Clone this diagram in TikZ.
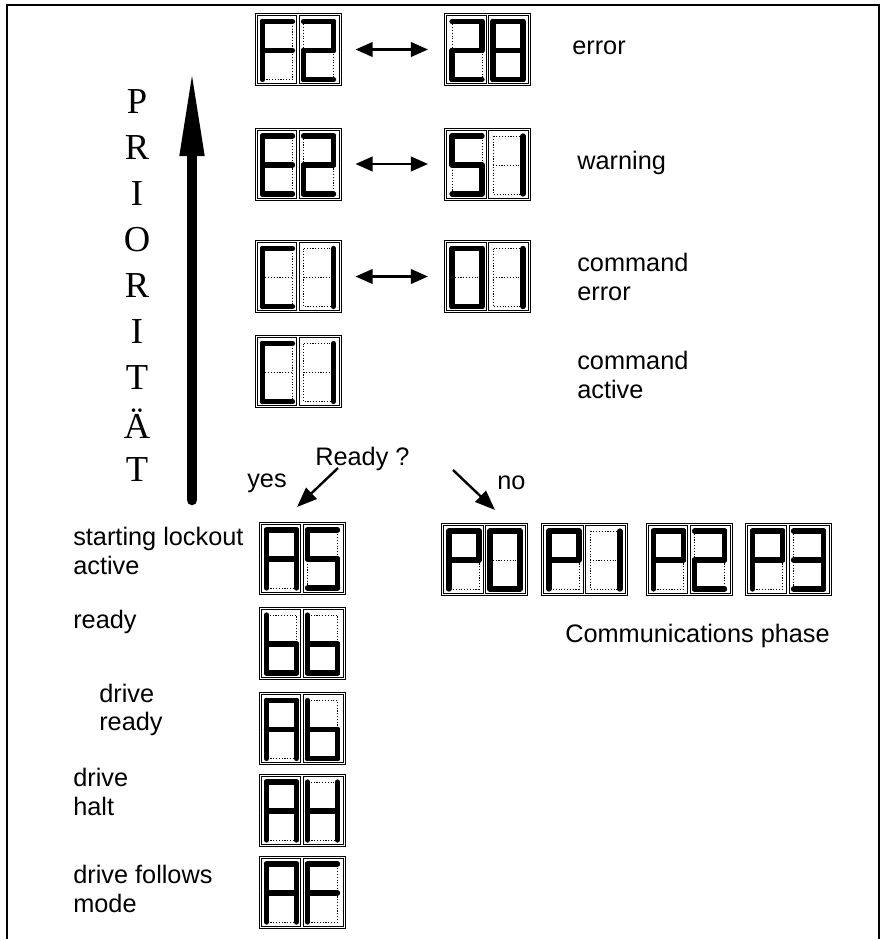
\documentclass[tikz,border=0pt]{standalone}
\usepackage{fontspec}
\setmainfont{Liberation Sans}
\newfontfamily\prioserif{Liberation Serif}
\usetikzlibrary{arrows.meta, calc}

\expandafter\def\csname sega\endcsname#1#2{(#1-15,#2-28) -- (#1+15,#2-28)}
\expandafter\def\csname segb\endcsname#1#2{(#1+15,#2-28) -- (#1+15,#2+1)}
\expandafter\def\csname segc\endcsname#1#2{(#1+15,#2+1) -- (#1+15,#2+30)}
\expandafter\def\csname segd\endcsname#1#2{(#1-15,#2+30) -- (#1+15,#2+30)}
\expandafter\def\csname sege\endcsname#1#2{(#1-15,#2+1) -- (#1-15,#2+30)}
\expandafter\def\csname segf\endcsname#1#2{(#1-15,#2-28) -- (#1-15,#2+1)}
\expandafter\def\csname segg\endcsname#1#2{(#1-15,#2+1) -- (#1+15,#2+1)}

\newcommand{\segdigit}[3]{%
  \draw[segoff] (#1-15,#2-28) rectangle (#1+15,#2+30) (#1-15,#2+1) -- (#1+15,#2+1);
  \foreach \sg in {#3} {\draw[segon] \csname seg\sg\endcsname{#1}{#2};}
}
\newcommand{\segdisplay}[5]{%
  \node[dispbox] (#1) at (#2,#3) {};
  \draw[cellbox] (#2-41,#3-34) rectangle (#2-1.2,#3+34);
  \draw[cellbox] (#2+1.2,#3-34) rectangle (#2+41,#3+34);
  \segdigit{#2-20.5}{#3}{#4}
  \segdigit{#2+20.5}{#3}{#5}
}

\tikzset{
  dispbox/.style={draw, line width=0.6pt, minimum width=2.15cm, minimum height=1.8cm, inner sep=0pt},
  cellbox/.style={line width=0.6pt},
  segoff/.style={line width=0.5pt, dash pattern=on 0.8pt off 1.2pt},
  segon/.style={line width=3.8pt, line cap=round},
  lbl/.style={anchor=west, align=left, inner sep=0pt, font=\fontsize{18}{20.5}\selectfont},
  prio/.style={inner sep=0pt, font=\prioserif\fontsize{26}{30}\selectfont},
  pairarrow/.style={line width=2pt, {Triangle[length=0.43cm, width=0.36cm]}-{Triangle[length=0.43cm, width=0.36cm]}, shorten <=0.35cm, shorten >=0.4cm},
  readyarrow/.style={line width=1.7pt, -{Triangle[length=0.5cm, width=0.38cm]}},
  prioarrow/.style={line width=7.5pt, line cap=round, -{Triangle[length=2.25cm, width=0.55cm]}}
}

\begin{document}
\begin{tikzpicture}[x=0.025cm, y=-0.025cm]
  \useasboundingbox (0,0) rectangle (882,939);
  \draw[line width=2pt] (7,939) -- (7,5) -- (879,5) -- (879,939);

  \segdisplay{f2}{298}{49.5}{a,e,f,g}{a,b,g,e,d}
  \segdisplay{n28}{487.5}{49.5}{a,b,g,e,d}{a,b,c,d,e,f,g}
  \segdisplay{e2}{298}{164}{a,d,e,f,g}{a,b,g,e,d}
  \segdisplay{s1}{487.5}{164}{a,f,g,c,d}{b,c}
  \segdisplay{cerr}{298}{276.5}{a,d,e,f}{b,c}
  \segdisplay{n01}{487.5}{276.5}{a,b,c,d,e,f}{b,c}
  \segdisplay{cact}{298}{371.5}{a,d,e,f}{b,c}

  \draw[pairarrow] (f2) -- (n28);
  \draw[pairarrow] (e2) -- (s1);
  \draw[pairarrow] (cerr) -- (n01);

  \node[lbl] (errtxt) at (572,48) {error};
  \node[lbl] (warntxt) at (577,163) {warning};
  \node[lbl] (cerrtxt) at (577,277) {command\\error};
  \node[lbl] (cacttxt) at (577,375) {command\\active};

  \foreach \ch [count=\i] in {P,R,I,O,R,I,T,Ä,T}
    \node[prio] (prio\i) at (137,{102+46*(\i-1)}) {\ch};
  \draw[prioarrow] (192,500) -- (192,66);

  \node[lbl] (ready) at (315,459) {Ready ?};
  \node[lbl] (yes) at (247,483) {yes};
  \node[lbl] (no) at (497,483) {no};
  \coordinate (yesfrom) at (338,468);
  \coordinate (yesto) at (297,507);
  \coordinate (nofrom) at (453,470);
  \coordinate (noto) at (495,510);
  \draw[readyarrow] (yesfrom) -- (yesto);
  \draw[readyarrow] (nofrom) -- (noto);

  \segdisplay{as}{302}{558}{a,b,c,e,f,g}{a,f,g,c,d}
  \segdisplay{bb}{302}{643}{c,d,e,f,g}{c,d,e,f,g}
  \segdisplay{ab}{302}{728.5}{a,b,c,e,f,g}{c,d,e,f,g}
  \segdisplay{ah}{302}{810}{a,b,c,e,f,g}{b,c,e,f,g}
  \segdisplay{af}{302}{892}{a,b,c,e,f,g}{a,e,f,g}

  \node[lbl] (astxt) at (73,551) {starting lockout\\active};
  \node[lbl] (bbtxt) at (73,622) {ready};
  \node[lbl] (abtxt) at (99,710) {drive\\ready};
  \node[lbl] (ahtxt) at (73,792) {drive\\halt};
  \node[lbl] (aftxt) at (73,889) {drive follows\\mode};

  \segdisplay{p0}{484.5}{559}{a,b,e,f,g}{a,b,c,d,e,f}
  \segdisplay{p1}{584.5}{559}{a,b,e,f,g}{b,c}
  \segdisplay{p2}{689}{559}{a,b,e,f,g}{a,b,g,e,d}
  \segdisplay{p3}{788}{559}{a,b,e,f,g}{a,b,c,d,g}
  \node[lbl] (phase) at (565,636) {Communications phase};
\end{tikzpicture}
\end{document}
